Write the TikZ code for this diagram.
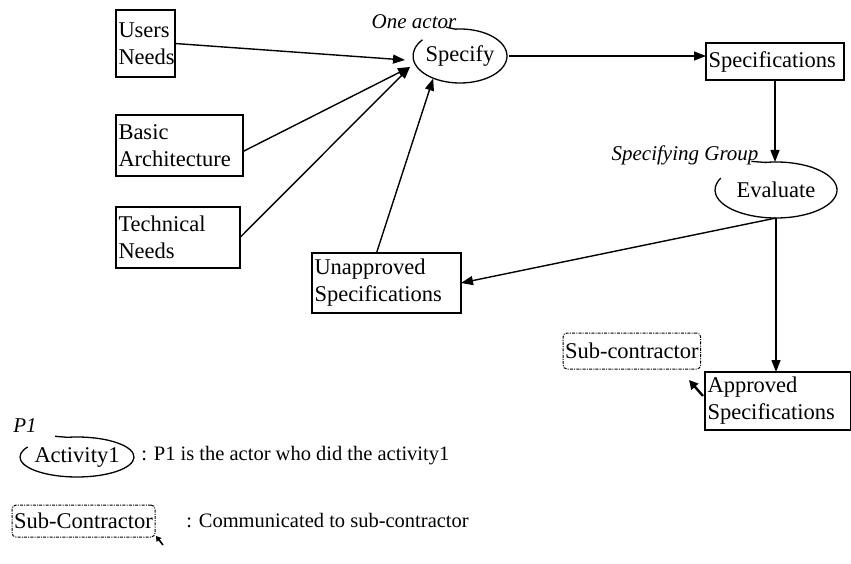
\documentclass[tikz,border=0pt]{standalone}
\usepackage{fontspec}
\setmainfont{Liberation Serif}
\usetikzlibrary{arrows.meta,shapes.geometric}
\begin{document}
\begin{tikzpicture}[x=1pt,y=-1pt,
  every node/.style={font=\fontsize{22.5}{27}\selectfont, outer sep=0pt},
  box/.style={draw, line width=1.3pt, anchor=north west, align=left, inner xsep=2.5pt, inner ysep=0pt},
  dbox/.style={draw, line width=1pt, dash pattern=on 3pt off 1.2pt on 1pt off 1.2pt, rounded corners=4pt, anchor=north west, inner xsep=2pt, inner ysep=0pt},
  act/.style={ellipse, inner sep=0pt},
  ell/.style={line width=1.3pt},
  lbl/.style={font=\fontsize{21}{25}\selectfont\itshape},
  legtext/.style={font=\fontsize{20.5}{25}\selectfont, anchor=west},
  arr/.style={line width=1.4pt, -{Triangle[length=12pt,width=9pt]}},
  ptr/.style={line width=2.4pt, -{Triangle[length=9pt,width=9pt]}}]
\useasboundingbox[fill=white] (0,0) rectangle (851,564);

% boxes
\node[box, text width=54pt, minimum height=67pt] (users) at (116,10) {Users\\Needs};
\node[box, text width=122pt, minimum height=61pt] (basic) at (116,115) {Basic\\Architecture};
\node[box, text width=119pt, minimum height=61pt] (tech) at (116,207) {Technical\\Needs};
\node[box, text width=133pt, minimum height=37pt] (specs) at (706,43) {Specifications};
\node[box, text width=144pt, minimum height=60pt] (unapp) at (312,253) {Unapproved\\Specifications};
\node[box, text width=141pt, minimum height=58pt] (approved) at (705,372) {Approved\\Specifications};
\node[dbox, minimum width=130pt, minimum height=36pt] (subcon) at (563,333) {Sub-contractor};

% activities
\node[act, minimum width=94pt, minimum height=54pt] (specify) at (460,56) {Specify};
\draw[ell] ([shift={(96:47pt and 27pt)},xshift=-9pt,yshift=2pt]specify.center) -- ([shift={(96:47pt and 27pt)}]specify.center) arc[start angle=96, end angle=-217, x radius=47pt, y radius=27pt];
\node[lbl] (oneactor) at (414,22) {One actor};

\node[act, minimum width=122pt, minimum height=56pt] (eval) at (776,190) {Evaluate};
\draw[ell] ([shift={(100:61pt and 28pt)},xshift=-14pt,yshift=1pt]eval.center) -- ([shift={(100:61pt and 28pt)}]eval.center) arc[start angle=100, end angle=-205, x radius=61pt, y radius=28pt];
\node[lbl] (sgroup) at (685,155) {Specifying Group};

% connectors
\coordinate (hubA) at (405,60);
\coordinate (hubB) at (410,67);
\draw[arr] (users.east) -- (hubA);
\draw[arr] ([yshift=-6pt]basic.east) -- (hubB);
\draw[arr] (tech.east) -- (hubB);
\draw[arr] ([xshift=-10pt]unapp.north) -- (specify.220);
\draw[arr] (specify.east) -- (specify.east -| specs.west);
\draw[arr] (specs.south) -- (specs.south |- eval.north);
\draw[arr] (eval.south) -- (unapp.east);
\draw[arr] (eval.south) -- (eval.south |- approved.north);
\coordinate (ptrtip) at (689,380);
\draw[ptr] ([xshift=-2pt,yshift=-24pt]approved.north west) -- (ptrtip);

% legend
\node[act, minimum width=114pt, minimum height=40pt] (activity) at (77,457) {Activity1};
\draw[ell] ([shift={(100:57pt and 20pt)},xshift=-12pt,yshift=1pt]activity.center) -- ([shift={(100:57pt and 20pt)}]activity.center) arc[start angle=100, end angle=-210, x radius=57pt, y radius=20pt];
\node[lbl, anchor=west] (p1) at (10,426) {P1};
\node[legtext] (t1) at (138,456) {: P1 is the actor who did the activity1};
\node[dbox, minimum width=143pt, minimum height=32pt] (legsub) at (12,505) {Sub-Contractor};
\coordinate (legtip) at (156,536);
\draw[line width=1.6pt, -{Triangle[length=5pt,width=6pt]}] ([xshift=8pt,yshift=-8pt]legsub.south east) -- (legtip);
\node[legtext] (t2) at (183,521) {: Communicated to sub-contractor};
\end{tikzpicture}
\end{document}
